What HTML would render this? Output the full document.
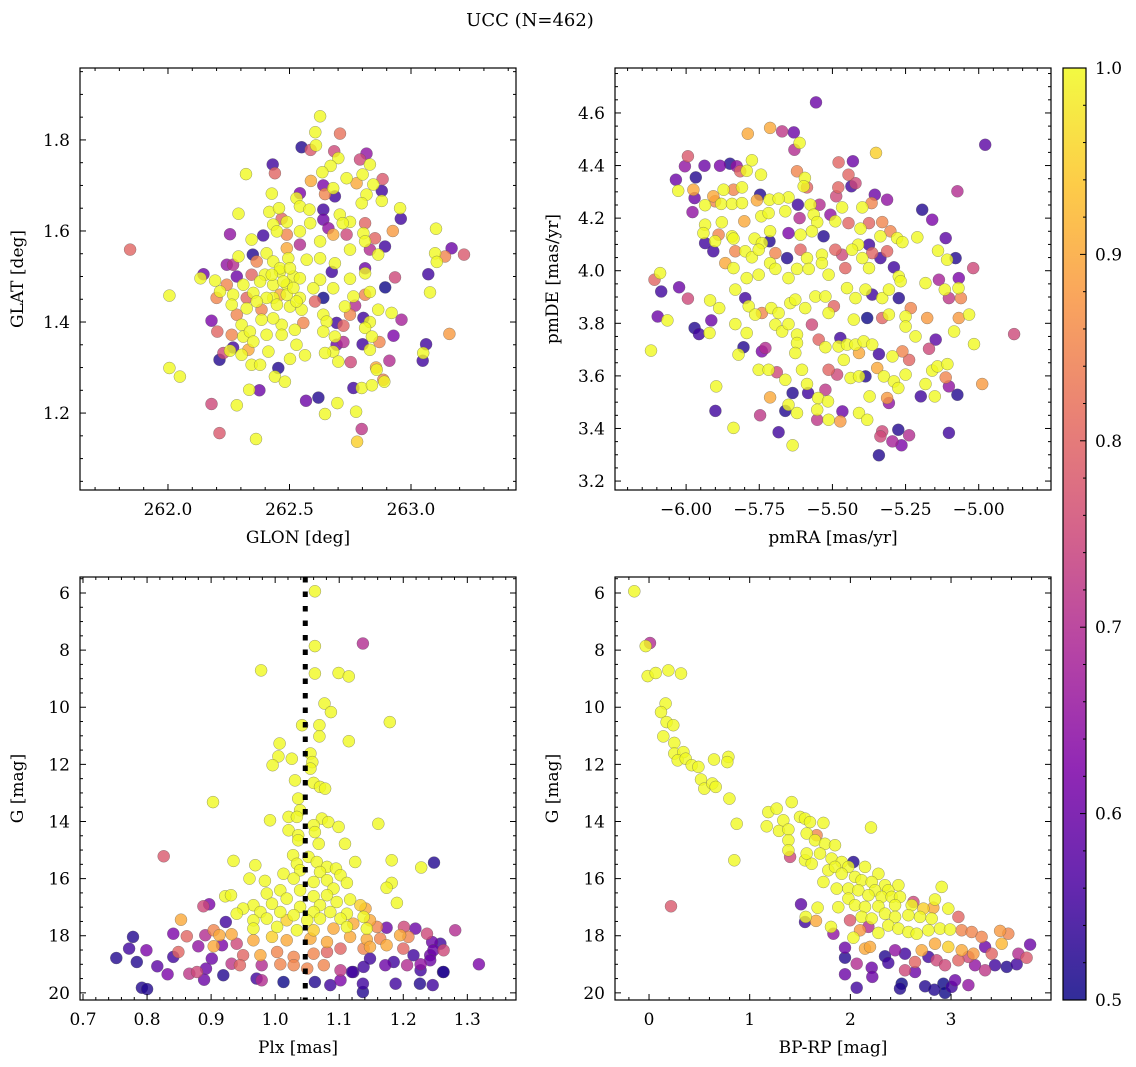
<!DOCTYPE html>
<html><head><meta charset="utf-8">
<style>
html,body{margin:0;padding:0;background:#fff;}
svg{display:block;font-family:"DejaVu Serif","Liberation Serif",serif;}
</style></head>
<body>
<svg id="fig" width="1136" height="1067" viewBox="0 0 1136 1067" xmlns="http://www.w3.org/2000/svg">
<defs>
<linearGradient id="plasma" x1="0" y1="1" x2="0" y2="0">
<stop offset="0" stop-color="#0d0887"/><stop offset="0.125" stop-color="#4c02a1"/>
<stop offset="0.25" stop-color="#7e03a8"/><stop offset="0.375" stop-color="#a92395"/>
<stop offset="0.5" stop-color="#cc4778"/><stop offset="0.625" stop-color="#e56b5d"/>
<stop offset="0.75" stop-color="#f89441"/><stop offset="0.875" stop-color="#fdc328"/>
<stop offset="1" stop-color="#f0f921"/>
</linearGradient>
</defs>
<text x="530" y="26" text-anchor="middle" font-size="18">UCC (N=462)</text>
</svg>
<script>
// ---------- Panel 1: GLON / GLAT ----------
const p1Lon=[262.626,262.606,262.609,262.708,262.550,262.587,262.684,262.817,262.790,262.701,262.669,262.831,262.431,262.440,262.321,262.635,262.735,262.801,262.883,262.588,262.639,262.680,262.776,262.845,262.880,262.427,262.543,262.529,262.646,262.687,262.817,262.880,262.797,262.955,262.958,262.290,262.417,262.457,262.468,262.543,262.582,262.639,262.639,262.707,262.749,262.719,262.811,262.925,263.103,262.255,262.392,262.344,262.433,262.489,262.448,262.489,262.543,262.585,262.660,262.680,262.626,262.735,262.804,262.852,262.811,262.893,262.749,262.831,262.543,262.489,262.406,262.349,262.290,262.268,262.365,262.433,262.495,262.571,262.626,262.687,262.811,262.865,263.099,263.140,263.167,263.218,263.106,263.071,262.934,262.811,262.749,262.674,262.626,262.516,262.461,262.399,262.344,262.283,262.242,262.146,262.134,262.194,262.242,262.310,262.379,262.433,262.489,262.543,262.598,262.680,262.811,262.831,262.894,263.078,262.763,262.639,262.605,262.543,262.489,262.433,262.351,262.268,262.214,262.200,262.262,262.324,262.385,262.448,262.502,262.550,262.639,262.728,262.770,262.865,262.920,262.961,262.804,262.831,262.694,262.722,262.749,262.653,262.557,262.468,262.433,262.385,262.303,262.283,262.179,262.203,262.262,262.310,262.337,262.406,262.468,262.522,262.639,262.687,262.811,262.839,262.928,262.870,262.801,262.722,262.831,263.062,263.050,263.048,263.158,262.694,262.680,262.646,262.529,262.564,262.502,262.413,262.351,262.331,262.303,262.255,262.268,262.228,262.212,262.344,262.379,262.454,262.440,262.481,262.701,262.752,262.856,262.859,262.886,262.890,262.911,262.006,262.049,261.844,262.006,262.179,262.212,262.283,262.362,262.334,262.376,262.568,262.619,262.646,262.697,262.774,262.797,262.778,262.763,262.797,262.839,262.461,262.502,262.475,262.516,262.427,262.406,262.461,262.529,262.365,262.324];
const p1Lat=[1.852,1.817,1.788,1.814,1.784,1.778,1.775,1.770,1.757,1.760,1.743,1.746,1.746,1.727,1.725,1.729,1.716,1.724,1.714,1.710,1.700,1.694,1.705,1.702,1.688,1.682,1.683,1.672,1.681,1.676,1.680,1.666,1.661,1.650,1.627,1.638,1.642,1.650,1.627,1.654,1.647,1.647,1.625,1.636,1.620,1.617,1.617,1.600,1.605,1.593,1.590,1.581,1.614,1.620,1.599,1.592,1.599,1.617,1.606,1.592,1.577,1.592,1.595,1.584,1.577,1.566,1.559,1.559,1.570,1.562,1.551,1.548,1.544,1.526,1.533,1.533,1.540,1.537,1.540,1.529,1.518,1.548,1.551,1.544,1.562,1.548,1.532,1.505,1.498,1.507,1.495,1.510,1.493,1.500,1.511,1.504,1.504,1.500,1.526,1.505,1.496,1.491,1.482,1.482,1.489,1.482,1.482,1.496,1.474,1.474,1.460,1.466,1.476,1.465,1.456,1.453,1.445,1.453,1.460,1.453,1.464,1.460,1.467,1.453,1.438,1.430,1.427,1.438,1.434,1.427,1.416,1.434,1.436,1.427,1.420,1.405,1.409,1.400,1.398,1.392,1.416,1.401,1.398,1.394,1.408,1.405,1.394,1.416,1.403,1.379,1.372,1.368,1.379,1.372,1.372,1.383,1.379,1.368,1.387,1.368,1.370,1.356,1.351,1.356,1.339,1.351,1.332,1.315,1.374,1.350,1.335,1.332,1.350,1.327,1.319,1.335,1.357,1.339,1.328,1.337,1.344,1.332,1.317,1.306,1.306,1.299,1.280,1.269,1.313,1.312,1.300,1.295,1.273,1.269,1.315,1.299,1.280,1.559,1.458,1.220,1.156,1.217,1.143,1.251,1.250,1.227,1.234,1.198,1.222,1.203,1.165,1.137,1.255,1.255,1.261,1.518,1.518,1.489,1.475,1.504,1.453,1.460,1.445,1.445,1.453];
const p1C=[1,1,1,.82,.52,.78,.75,.65,.75,1,1,1,.55,.8,1,1,1,1,.78,.9,.62,1,.9,1,.55,1,.62,1,.85,.55,1,1,1,1,.55,1,1,1,.8,1,1,.55,.6,1,1,1,.8,.88,1,.65,.55,1,1,1,1,.85,1,1,.65,.9,1,.75,1,.8,1,.55,1,.7,.7,.9,1,.52,1,.7,.85,1,1,1,1,1,.6,1,1,.85,.6,.78,1,.55,.75,1,1,.55,1,1,1,1,.8,.6,.65,.6,1,1,.85,1,1,1,1,1,1,1,.85,1,.5,1,1,.5,.8,1,1,1,1,1,1,.85,1,1,.85,1,1,1,1,1,.7,1,1,.68,.55,1,.55,.8,.85,1,.85,1,1,1,1,.85,.62,.8,.85,1,1,1,1,1,1,1,1,1,.62,.85,.55,.7,1,.55,1,.55,.88,.6,1,1,1,1,1,1,1,.9,1,1,.55,.75,.52,1,1,.52,1,1,1,.75,.9,1,.85,1,.7,1,1,.8,1,.75,.78,1,1,1,.6,.6,.52,1,1,1,.72,.95,.55,1,1,1,1,1,1,1,1,.9,1,1,.8];
// ---------- Panel 2: pmRA / pmDE ----------
const p2Ra=[-5.556,-4.978,-5.713,-5.789,-5.672,-5.632,-5.612,-5.630,-5.351,-5.430,-5.479,-5.994,-6.004,-5.937,-5.884,-5.850,-5.827,-5.775,-5.793,-5.815,-5.744,-5.967,-6.035,-5.975,-6.027,-5.971,-5.978,-5.621,-5.594,-5.445,-5.421,-5.435,-5.480,-5.598,-5.587,-5.872,-5.838,-5.809,-5.073,-5.355,-5.313,-5.487,-5.747,-5.650,-5.907,-5.901,-5.935,-5.880,-5.843,-5.809,-5.758,-5.715,-5.684,-5.618,-5.575,-5.544,-5.467,-5.398,-5.366,-5.193,-5.159,-5.113,-5.079,-5.019,-5.743,-5.718,-5.661,-5.612,-5.564,-5.552,-5.507,-5.490,-5.445,-5.404,-5.375,-5.330,-5.801,-5.878,-5.935,-5.941,-5.889,-5.843,-5.766,-5.713,-5.650,-5.609,-5.570,-5.530,-5.412,-5.375,-5.336,-5.302,-5.279,-5.261,-5.210,-5.139,-5.108,-5.935,-5.907,-5.901,-5.838,-5.832,-5.798,-5.775,-5.741,-5.752,-5.715,-5.695,-5.655,-5.609,-5.587,-5.536,-5.490,-5.467,-5.433,-5.398,-5.364,-5.336,-5.313,-5.290,-5.866,-5.838,-5.793,-5.752,-5.713,-5.695,-5.650,-5.621,-5.581,-5.536,-5.513,-5.456,-5.375,-5.273,-5.182,-5.136,-5.068,-5.116,-5.069,-5.061,-5.102,-6.089,-6.108,-6.085,-6.024,-5.994,-6.120,-6.097,-6.064,-5.971,-5.956,-5.920,-5.914,-5.918,-5.887,-5.832,-5.798,-5.786,-5.764,-5.741,-5.709,-5.684,-5.644,-5.627,-5.593,-5.558,-5.524,-5.495,-5.450,-5.421,-5.387,-5.364,-5.330,-5.307,-5.273,-5.267,-5.232,-5.513,-5.427,-5.381,-5.330,-5.307,-5.250,-5.250,-5.216,-5.176,-5.068,-5.033,-5.084,-5.016,-4.879,-5.147,-5.170,-5.832,-5.793,-5.821,-5.804,-5.741,-5.729,-5.695,-5.672,-5.650,-5.621,-5.621,-5.627,-5.570,-5.547,-5.524,-5.473,-5.479,-5.450,-5.421,-5.393,-5.364,-5.341,-5.461,-5.409,-5.295,-5.261,-5.238,-5.752,-5.718,-5.690,-5.661,-5.604,-5.513,-5.484,-5.438,-5.409,-5.387,-5.347,-5.324,-5.290,-5.275,-5.250,-5.182,-5.159,-5.141,-5.107,-5.113,-5.102,-5.073,-5.150,-5.198,-4.988,-5.897,-5.900,-5.838,-5.747,-5.713,-5.684,-5.636,-5.650,-5.661,-5.621,-5.587,-5.583,-5.549,-5.552,-5.515,-5.524,-5.552,-5.513,-5.473,-5.466,-5.409,-5.381,-5.373,-5.313,-5.307,-5.275,-5.330,-5.336,-5.295,-5.264,-5.238,-5.341,-5.102,-5.636];
const p2De=[4.640,4.479,4.543,4.521,4.530,4.526,4.486,4.460,4.448,4.416,4.412,4.435,4.397,4.399,4.399,4.407,4.397,4.420,4.380,4.378,4.365,4.355,4.346,4.308,4.304,4.276,4.223,4.378,4.353,4.365,4.333,4.321,4.317,4.321,4.317,4.308,4.308,4.317,4.302,4.289,4.270,4.283,4.289,4.279,4.283,4.264,4.249,4.254,4.254,4.257,4.268,4.270,4.274,4.251,4.251,4.251,4.241,4.241,4.257,4.232,4.194,4.124,4.048,4.010,4.207,4.219,4.226,4.200,4.213,4.185,4.213,4.188,4.181,4.160,4.181,4.185,4.188,4.184,4.175,4.143,4.137,4.131,4.122,4.150,4.143,4.137,4.150,4.131,4.099,4.099,4.131,4.150,4.124,4.109,4.127,4.076,4.042,4.105,4.074,4.112,4.122,4.074,4.074,4.051,4.105,4.080,4.112,4.067,4.048,4.080,4.048,4.061,4.080,4.061,4.080,4.048,4.067,4.048,4.074,4.013,4.029,4.010,3.972,3.985,4.029,4.007,3.972,4.007,4.007,4.029,3.985,4.010,4.010,3.978,3.953,3.966,3.972,3.928,3.934,3.896,3.896,3.991,3.966,3.921,3.937,3.894,3.696,3.826,3.811,3.782,3.759,3.763,3.811,3.887,3.858,3.928,3.896,3.865,3.833,3.839,3.858,3.839,3.877,3.890,3.858,3.902,3.902,3.865,3.934,3.896,3.928,3.909,3.896,3.928,3.896,3.960,3.858,3.839,3.814,3.820,3.820,3.833,3.826,3.788,3.750,3.820,3.820,3.833,3.769,3.721,3.759,3.738,3.703,3.797,3.763,3.681,3.709,3.693,3.706,3.795,3.769,3.797,3.757,3.725,3.687,3.795,3.738,3.709,3.744,3.712,3.719,3.719,3.731,3.719,3.683,3.661,3.687,3.674,3.693,3.661,3.623,3.623,3.614,3.585,3.623,3.623,3.605,3.592,3.598,3.598,3.630,3.598,3.579,3.554,3.605,3.569,3.620,3.636,3.645,3.594,3.560,3.528,3.522,3.522,3.569,3.560,3.467,3.402,3.450,3.518,3.386,3.535,3.490,3.467,3.459,3.569,3.535,3.516,3.471,3.503,3.547,3.433,3.433,3.427,3.465,3.459,3.433,3.522,3.516,3.497,3.395,3.389,3.370,3.351,3.336,3.374,3.298,3.383,3.336];
const p2C=[.6,.58,.9,.9,.72,.6,1,.7,.95,.6,.8,.78,.65,.6,.62,.52,.65,1,1,.8,1,.52,.6,.9,1,.6,.65,.85,1,.8,.75,.55,.8,1,.8,1,.85,1,.7,.6,.65,.75,.52,1,.9,.85,1,1,1,1,.9,1,1,.55,1,.7,1,1,.85,.52,.62,.58,.52,.75,1,1,1,.7,1,1,.65,1,.8,1,.8,.85,.9,1,1,1,.85,1,1,1,.62,1,1,.52,1,.55,1,.85,1,1,1,1,1,.55,.55,1,1,.85,1,1,1,1,.52,.85,.52,.8,1,1,.8,.75,1,1,.8,.55,.8,.55,.9,1,1,1,1,1,1,1,1,1,1,.8,1,1,1,.68,.62,1,1,.85,.72,1,.8,.55,.6,.75,1,.6,1,.52,.55,1,.6,1,1,1,.55,1,1,.85,1,1,1,1,1,1,1,.8,1,1,1,.55,1,1,.52,1,.85,1,1,.5,.8,1,1,1,1,.88,.88,1,1,1,.75,.58,.75,1,1,1,.52,.62,.7,1,1,1,1,1,1,.75,.8,1,.55,1,1,1,1,1,.55,1,.9,1,.85,.8,1,1,.75,1,1,.8,.75,1,1,.52,.9,1,1,1,1,1,1,1,1,.85,.65,.52,1,.55,.88,1,.55,1,.72,.9,.55,.52,1,.52,1,1,.55,1,1,1,.72,.72,1,.88,.6,1,1,1,.88,.65,.52,.75,.75,.68,.62,.7,.52,.55,1];
// ---------- Panel 3: Plx / G ----------
const p3Plx=[1.062,1.137,1.062,0.978,1.062,1.099,1.115,1.077,1.087,1.179,1.042,1.069,1.069,1.115,1.007,1.005,1.026,1.055,1.058,0.996,1.055,1.031,1.060,1.070,1.078,1.036,0.903,1.039,1.021,0.992,1.034,1.073,1.083,1.060,1.099,1.161,1.021,1.036,1.062,1.036,1.109,1.068,1.028,1.052,0.826,0.935,0.969,1.125,1.182,1.248,1.228,1.034,1.065,1.081,1.095,1.013,1.039,1.070,1.102,0.960,0.984,1.029,1.060,1.081,1.112,1.182,1.174,1.008,1.039,1.091,0.987,1.018,1.060,1.081,0.922,0.931,1.117,1.190,0.966,0.995,1.039,1.070,1.096,1.133,1.141,0.950,0.940,0.888,0.897,0.977,1.008,1.029,1.060,1.086,1.112,1.138,0.966,0.987,1.018,1.050,1.070,1.102,1.122,1.148,0.853,0.923,0.966,1.003,1.034,1.060,1.091,1.112,1.143,1.159,1.174,1.201,1.219,1.237,1.281,0.904,0.913,0.841,0.862,0.778,0.891,0.932,0.966,0.995,1.018,1.055,1.081,1.117,1.143,1.164,1.195,1.208,1.245,1.258,1.263,0.772,0.799,0.849,0.841,0.752,0.784,0.880,0.904,0.917,0.940,0.950,0.977,1.003,1.029,1.060,1.081,1.102,1.138,1.148,1.174,1.200,1.216,1.242,1.247,0.901,0.932,0.945,0.979,1.008,1.029,1.050,1.076,1.102,1.122,1.138,1.148,1.172,1.185,1.206,1.227,1.227,1.242,1.262,1.318,0.816,0.832,0.866,0.878,0.892,0.889,0.919,0.971,0.979,1.013,1.062,1.086,1.102,1.120,1.137,1.137,1.188,1.226,1.246,1.263,0.792,0.800];
const p3G=[5.94,7.77,7.86,8.71,8.82,8.80,8.92,9.87,10.17,10.52,10.63,10.63,11.02,11.19,11.27,11.72,11.80,11.62,11.92,12.03,12.15,12.56,12.65,12.79,12.85,13.20,13.32,13.61,13.84,13.96,13.84,13.90,14.02,14.13,14.19,14.08,14.31,14.48,14.37,14.66,14.78,14.78,15.18,15.24,15.22,15.38,15.53,15.42,15.36,15.44,15.61,15.48,15.42,15.59,15.65,15.83,15.71,15.77,15.88,16.00,16.08,16.00,16.12,16.06,16.15,16.15,16.32,16.41,16.41,16.35,16.52,16.70,16.62,16.58,16.62,16.58,16.73,16.85,16.93,16.88,16.99,16.93,16.82,16.93,17.05,17.05,17.23,16.97,16.90,17.17,17.17,17.28,17.17,17.17,17.23,17.34,17.46,17.40,17.46,17.46,17.40,17.40,17.58,17.46,17.44,17.52,17.75,17.69,17.81,17.81,17.75,17.69,17.75,17.69,17.72,17.69,17.75,17.93,17.81,17.81,17.98,17.93,18.02,18.04,17.98,17.95,18.16,18.04,18.16,18.10,18.22,18.04,18.13,18.10,17.98,18.04,18.22,18.28,18.51,18.45,18.51,18.57,18.74,18.78,18.92,18.37,18.37,18.33,18.28,18.68,18.68,18.57,18.74,18.63,18.57,18.45,18.45,18.39,18.33,18.45,18.68,18.68,18.51,18.80,18.98,19.03,19.03,19.00,19.03,19.15,19.03,19.21,19.27,19.09,18.80,19.03,18.92,19.03,19.00,19.21,18.86,19.27,19.00,19.07,19.35,19.33,19.27,19.15,19.54,19.38,19.50,19.56,19.62,19.62,19.73,19.56,19.27,19.68,19.97,19.68,19.68,19.73,19.27,19.82,19.87];
const p3C=[1,.7,1,1,1,1,1,1,1,1,1,1,1,1,1,1,1,1,1,1,1,1,1,1,1,1,1,1,1,1,1,1,1,1,1,1,1,1,1,1,1,1,1,1,.78,1,1,1,1,.52,1,1,1,1,1,1,1,1,1,1,1,1,1,1,1,1,1,1,1,1,1,1,1,1,1,1,1,1,1,1,1,1,1,.95,.9,1,1,.75,.62,1,1,1,1,1,1,1,1,1,.95,1,1,1,.9,.9,.9,.55,1,1,1,.95,.9,1,1,.85,.6,.75,.6,.75,.7,.85,.9,.62,.8,.52,.7,.9,.9,.95,.9,.9,.9,.9,.9,.85,.9,.85,.6,.55,.75,.55,.62,.8,.55,.52,.52,.65,.9,.62,.75,.8,.9,.85,.85,.85,.8,.8,.85,.9,.9,.8,.55,.6,.6,.6,.72,.8,.7,.85,.85,.85,.85,.72,.55,.55,.55,.6,.55,.7,.65,.55,.6,.52,.62,.58,.62,.72,.75,.6,.6,.52,.55,.7,.5,.52,.55,.62,.55,.55,.52,.55,.52,.55,.52,.52,.52];
const plxLine=[1.047];
// ---------- Panel 4: BP-RP / G ----------
const p4Col=[-0.146,0.010,-0.033,-0.013,0.066,0.192,0.318,0.165,0.119,0.175,0.241,0.142,0.251,0.251,0.341,0.285,0.364,0.424,0.490,0.645,0.788,0.778,0.516,0.549,0.629,0.662,0.798,0.871,0.847,0.218,1.417,1.185,1.268,1.169,1.291,1.334,1.384,1.500,1.549,1.599,1.732,2.205,1.566,1.649,1.665,1.384,1.384,1.401,1.549,1.616,1.748,1.847,1.566,1.698,1.814,1.914,2.030,1.781,1.847,1.980,2.145,2.278,1.732,1.914,2.046,2.112,2.212,2.344,2.477,1.864,1.980,2.079,2.245,2.377,2.907,1.980,2.179,2.311,2.410,2.493,2.841,2.626,1.880,2.046,2.145,2.278,2.444,2.609,2.725,2.824,2.973,1.675,1.510,1.556,1.549,1.659,1.808,1.831,1.996,2.112,2.212,2.344,2.444,2.576,2.692,2.808,3.073,2.096,2.179,2.278,2.377,2.477,2.576,2.659,2.775,2.890,2.990,3.106,3.205,3.304,3.487,3.569,3.503,3.785,2.030,1.947,2.145,2.195,2.444,2.543,2.709,2.841,2.973,3.106,3.222,3.338,3.404,3.669,3.751,1.947,2.063,2.212,2.344,2.377,2.543,2.642,2.642,2.775,2.857,2.940,3.073,3.172,3.238,3.338,3.437,3.553,3.652,1.947,2.218,2.510,2.493,2.063,2.742,2.834,2.924,2.940,3.006,3.172,3.040];
const p4G=[5.94,7.75,7.86,8.91,8.80,8.71,8.82,9.87,10.17,10.52,10.63,11.02,11.25,11.62,11.57,11.86,11.80,12.03,12.09,11.83,11.74,11.92,12.53,12.85,12.67,12.79,13.20,14.08,15.36,16.97,13.32,13.67,13.55,14.17,14.33,13.96,14.28,13.84,13.90,14.02,14.05,14.21,14.42,14.66,14.48,14.66,15.01,15.24,15.36,15.48,14.78,14.83,15.12,15.12,15.30,15.42,15.42,15.71,15.59,15.59,15.59,15.83,16.12,15.83,15.94,16.06,16.12,16.23,16.23,16.35,16.35,16.41,16.41,16.41,16.29,16.70,16.58,16.64,16.64,16.64,16.73,16.82,17.00,16.93,16.99,16.97,16.93,16.93,17.05,17.02,17.05,17.02,16.90,17.34,17.52,17.48,17.69,17.93,17.46,17.34,17.40,17.23,17.34,17.28,17.34,17.40,17.34,17.81,17.69,17.90,17.64,17.75,17.87,17.93,17.81,17.75,17.78,17.81,17.87,18.04,17.83,17.93,18.28,18.31,18.07,18.42,18.45,18.39,18.51,18.63,18.51,18.28,18.39,18.51,18.63,18.39,18.63,18.63,18.77,18.77,18.98,19.12,18.72,18.95,19.21,18.92,19.27,18.74,18.86,19.03,18.86,18.74,19.03,19.21,19.03,19.09,19.00,19.35,19.44,19.68,19.85,19.82,19.77,19.89,19.68,20.00,19.79,19.73,19.56];
const p4C=[1,.7,1,1,1,1,1,1,1,1,1,1,1,1,1,1,1,1,1,1,1,1,1,1,1,1,1,1,1,.78,1,1,1,1,1,1,1,1,1,1,1,1,1,1,.85,1,1,.75,1,1,1,1,1,1,1,1,.52,1,1,1,1,1,1,1,1,1,1,1,1,1,1,1,1,1,1,1,1,1,1,1,1,.75,1,1,1,1,1,1,.95,.9,1,1,.58,1,.55,.9,1,.65,.78,1,1,1,1,1,1,1,.8,.88,.7,1,1,1,1,1,1,1,1,.85,.85,.85,.88,.85,.92,.6,1,.6,.9,.9,.65,.55,.9,.9,.95,.9,.88,.6,.8,.7,.78,.52,.7,.6,.52,.55,.75,.8,.6,.55,.75,.75,.8,.75,.65,.72,.55,.52,.55,.6,.6,.5,.52,.55,.52,.52,.5,.5,.55,.65,.6];
// ---------- Colorbar ----------
const cbTicks=[0.5,0.6,0.7,0.8,0.9,1.0];
const cbMin=0.5, cbMax=1.0;

const NS='http://www.w3.org/2000/svg';
const svg=document.getElementById('fig');
function mk(tag,attrs,parent){const e=document.createElementNS(NS,tag);for(const k in attrs)e.setAttribute(k,attrs[k]);(parent||svg).appendChild(e);return e;}
const stops=[[0,[13,8,135]],[0.125,[76,2,161]],[0.25,[126,3,168]],[0.375,[169,35,149]],[0.5,[204,71,120]],[0.625,[229,107,93]],[0.75,[248,148,65]],[0.875,[253,195,40]],[1,[240,249,33]]];
function plasma(c){let t=(c-cbMin)/(cbMax-cbMin);t=Math.max(0,Math.min(1,t));for(let i=1;i<stops.length;i++){if(t<=stops[i][0]){const a=stops[i-1],b=stops[i];const f=(t-a[0])/(b[0]-a[0]);const r=a[1].map((v,j)=>Math.round(v+(b[1][j]-v)*f));return 'rgb('+r.join(',')+')';}}return 'rgb(240,249,33)';}
function fmt(v,d){return v.toFixed(d).replace('-','\u2212');}

function panel(o){
  const g=mk('g',{});
  
  
  const L=o.L,T=o.T,W=o.W,H=o.H;
  const sx=v=>L+(v-o.x0)/(o.x1-o.x0)*W;
  const sy=o.yinv?(v=>T+(v-o.y0)/(o.y1-o.y0)*H):(v=>T+H-(v-o.y0)/(o.y1-o.y0)*H);
  const clip=mk('clipPath',{id:'clip-'+o.name},g);mk('rect',{x:L,y:T,width:W,height:H},clip);
  const pts=mk('g',{'clip-path':'url(#clip-'+o.name+')'},g);
  
  
  const idx=o.xs.map((_,i)=>i).sort((a,b)=>o.cs[a]-o.cs[b]);
  idx.forEach(i=>{
    const c=mk('circle',{cx:sx(o.xs[i]).toFixed(1),cy:sy(o.ys[i]).toFixed(1),r:6,fill:plasma(o.cs[i]),'fill-opacity':0.8,stroke:'#555','stroke-opacity':0.6,'stroke-width':0.5},pts);
    
    
  });
  if(o.vline){const vl=mk('line',{x1:sx(o.vline[0]),x2:sx(o.vline[0]),y1:T,y2:T+H,stroke:'#000','stroke-width':5,'stroke-dasharray':'5.5,9'},g);
    
    }
  mk('rect',{x:L,y:T,width:W,height:H,fill:'none',stroke:'#000','stroke-width':1.2},g);
  const eps=1e-9;
  for(let k=Math.ceil(o.x0/o.xmin-eps);k*o.xmin<=o.x1+eps;k++){
    const v=k*o.xmin;
    const isMaj=Math.abs(v/o.xmaj-Math.round(v/o.xmaj))<1e-6;const len=isMaj?6:3;const x=sx(v);
    mk('line',{x1:x,x2:x,y1:T+H,y2:T+H-len,stroke:'#000','stroke-width':1},g);
    mk('line',{x1:x,x2:x,y1:T,y2:T+len,stroke:'#000','stroke-width':1},g);
    if(isMaj){const t=mk('text',{x:x,y:T+H+25,'text-anchor':'middle','font-size':17},g);t.textContent=fmt(Math.round(v/o.xmaj)*o.xmaj,o.xd);
      }
  }
  for(let k=Math.ceil(o.ylo/o.ymin-eps);k*o.ymin<=o.yhi+eps;k++){
    const v=k*o.ymin;
    const isMaj=Math.abs(v/o.ymaj-Math.round(v/o.ymaj))<1e-6;const len=isMaj?6:3;const y=sy(v);
    mk('line',{x1:L,x2:L+len,y1:y,y2:y,stroke:'#000','stroke-width':1},g);
    mk('line',{x1:L+W,x2:L+W-len,y1:y,y2:y,stroke:'#000','stroke-width':1},g);
    if(isMaj){const t=mk('text',{x:L-10,y:y+6,'text-anchor':'end','font-size':17},g);t.textContent=fmt(Math.round(v/o.ymaj)*o.ymaj,o.yd);
      }
  }
  const xl=mk('text',{x:L+W/2,y:T+H+53,'text-anchor':'middle','font-size':17},g);xl.textContent=o.xlabel;
  
  const yl=mk('text',{x:0,y:0,'text-anchor':'middle','font-size':17,transform:'translate('+(L-57)+','+(T+H/2)+') rotate(-90)'},g);yl.textContent=o.ylabel;
  
}
panel({name:'glon-glat-panel',L:80,T:68,W:436,H:422,x0:261.638,x1:263.432,y0:1.031,y1:1.958,ylo:1.031,yhi:1.958,xmaj:0.5,xmin:0.1,ymaj:0.2,ymin:0.05,xd:1,yd:1,xs:p1Lon,ys:p1Lat,cs:p1C,xlabel:'GLON [deg]',ylabel:'GLAT [deg]'});
panel({name:'pm-panel',L:615,T:68,W:436,H:422,x0:-6.243,x1:-4.753,y0:3.166,y1:4.771,ylo:3.166,yhi:4.771,xmaj:0.25,xmin:0.05,ymaj:0.2,ymin:0.05,xd:2,yd:1,xs:p2Ra,ys:p2De,cs:p2C,xlabel:'pmRA [mas/yr]',ylabel:'pmDE [mas/yr]'});
panel({name:'plx-g-panel',L:80,T:577,W:436,H:423,x0:0.6953,x1:1.376,y0:5.44,y1:20.25,ylo:5.44,yhi:20.25,yinv:true,xmaj:0.1,xmin:0.02,ymaj:2,ymin:0.5,xd:1,yd:0,xs:p3Plx,ys:p3G,cs:p3C,vline:plxLine,xlabel:'Plx [mas]',ylabel:'G [mag]'});
panel({name:'cmd-panel',L:615,T:577,W:436,H:423,x0:-0.338,x1:3.993,y0:5.44,y1:20.25,ylo:5.44,yhi:20.25,yinv:true,xmaj:1,xmin:0.2,ymaj:2,ymin:0.5,xd:0,yd:0,xs:p4Col,ys:p4G,cs:p4C,xlabel:'BP-RP [mag]',ylabel:'G [mag]'});

const cb=mk('g',{});


const cbL=1063,cbT=68,cbW=23,cbH=932;
const cy=v=>cbT+cbH-(v-cbMin)/(cbMax-cbMin)*cbH;
mk('rect',{x:cbL,y:cbT,width:cbW,height:cbH,fill:'url(#plasma)','fill-opacity':0.85},cb);
mk('rect',{x:cbL,y:cbT,width:cbW,height:cbH,fill:'none',stroke:'#000','stroke-width':1.2},cb);
for(let k=0;k<=25;k++){const v=cbMin+k*0.02;const y=cy(v);const maj=k%5===0;
  mk('line',{x1:cbL+cbW,x2:cbL+cbW-(maj?6:3),y1:y,y2:y,stroke:'#000','stroke-width':1},cb);}
cbTicks.forEach(v=>{const t=mk('text',{x:cbL+cbW+9,y:cy(v)+6,'font-size':17},cb);t.textContent=v.toFixed(1);
  
  });
</script>
</body></html>
